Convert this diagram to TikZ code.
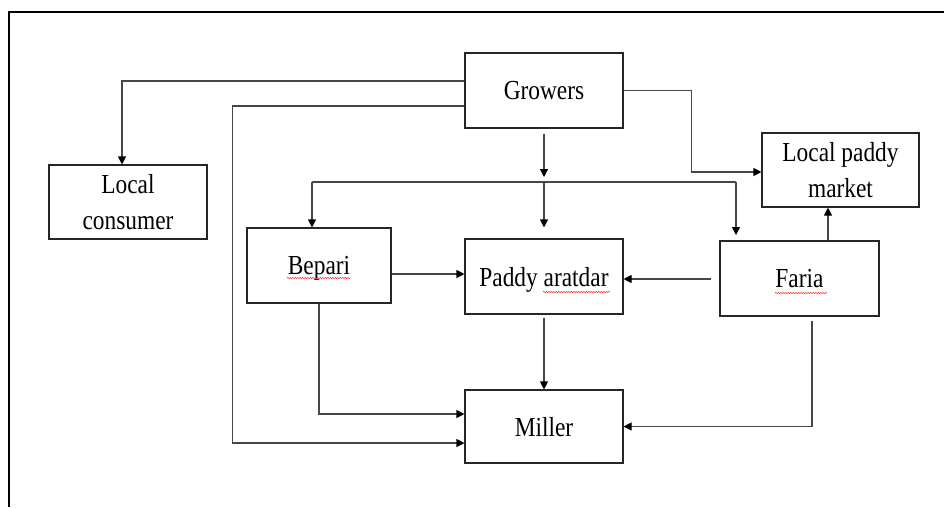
\documentclass[tikz,border=0pt]{standalone}
\usepackage{fontspec}
\setmainfont[FakeStretch=0.85]{Liberation Serif}
\usetikzlibrary{arrows.meta,calc,decorations.pathmorphing}
\begin{document}
\begin{tikzpicture}[x=1pt,y=-1pt,
  box/.style={draw=black!85,line width=1.1pt,inner sep=0pt,text depth=0pt,align=center,
              font=\fontsize{27.5}{36}\selectfont},
  conn/.style={draw=black!72,line width=1.1pt},
  arr/.style={conn,-{Triangle[length=8pt,width=8pt,fill=black,color=black]}},
  spell/.style={draw=red!80,line width=0.5pt,decorate,
                decoration={snake,segment length=2.5pt,amplitude=0.7pt}}]
\useasboundingbox (0,0) rectangle (944,507);
\fill[white] (0,0) rectangle (944,507);
% outer frame
\draw[line width=2pt] (9,507) -- (9,12) -- (944,12);
% boxes
\node[box,minimum width=158pt,minimum height=75pt] (grow) at (544,90.5) {Growers};
\node[box,minimum width=158pt,minimum height=74pt] (cons) at (128,202) {Local\\consumer};
\node[box,minimum width=157pt,minimum height=74pt] (mkt) at (840.5,170) {Local paddy\\market};
\node[box,minimum width=144pt,minimum height=75pt] (bep) at (319,265.5) {Bepari};
\node[box,minimum width=158pt,minimum height=75pt] (ara) at (544,276.5) {Paddy aratdar};
\node[box,minimum width=159pt,minimum height=75pt] (far) at (799.5,278.5) {Faria};
\node[box,minimum width=158pt,minimum height=73pt] (mil) at (544,426.5) {Miller};
% spell-check underlines
\draw[spell] ($(bep.center)+(-32,12.5)$) -- ($(bep.center)+(31,12.5)$);
\draw[spell] ($(ara.center)+(-1,15.5)$) -- ($(ara.center)+(66,15.5)$);
\draw[spell] ($(far.center)+(-24.5,14.5)$) -- ($(far.center)+(27.5,14.5)$);
% hub coordinates
\coordinate (hub) at (544,182);
\coordinate (hubL) at (312,182);
\coordinate (hubR) at (736,182);
% connectors
\draw[arr] ([yshift=9.5pt]grow.west) -| ([xshift=-6pt]cons.north);
\draw[arr] ([yshift=-15.5pt]grow.west) -| ([xshift=-232pt,yshift=-16.5pt]mil.west) -- ([yshift=-16.5pt]mil.west);
\draw[arr] ([yshift=-5pt]grow.south) -- ([yshift=5pt]hub);
\draw[conn] (hubL) -- (hubR);
\draw[arr] (hubL) -- (hubL |- bep.north);
\draw[arr] (hub) -- ([yshift=11pt]ara.north);
\draw[arr] (hubR) -- ++(0,53);
\draw[arr] (grow.east) -| ([xshift=-70pt,yshift=-2pt]mkt.west) -- ([yshift=-2pt]mkt.west);
\draw[arr] ([xshift=28.5pt]far.north) -- ([xshift=-12.5pt]mkt.south);
\draw[arr] ([xshift=-8pt,yshift=-0.5pt]far.west) -- ([yshift=-2.5pt]ara.east);
\draw[arr] ([yshift=-8.5pt]bep.east) -- ([yshift=2.5pt]ara.west);
\draw[arr] (bep.south) |- ([yshift=12.5pt]mil.west);
\draw[arr] ([yshift=-3pt]ara.south) -- (mil.north);
\draw[arr] ([xshift=12.5pt,yshift=-4pt]far.south) |- (mil.east);
\end{tikzpicture}
\end{document}
